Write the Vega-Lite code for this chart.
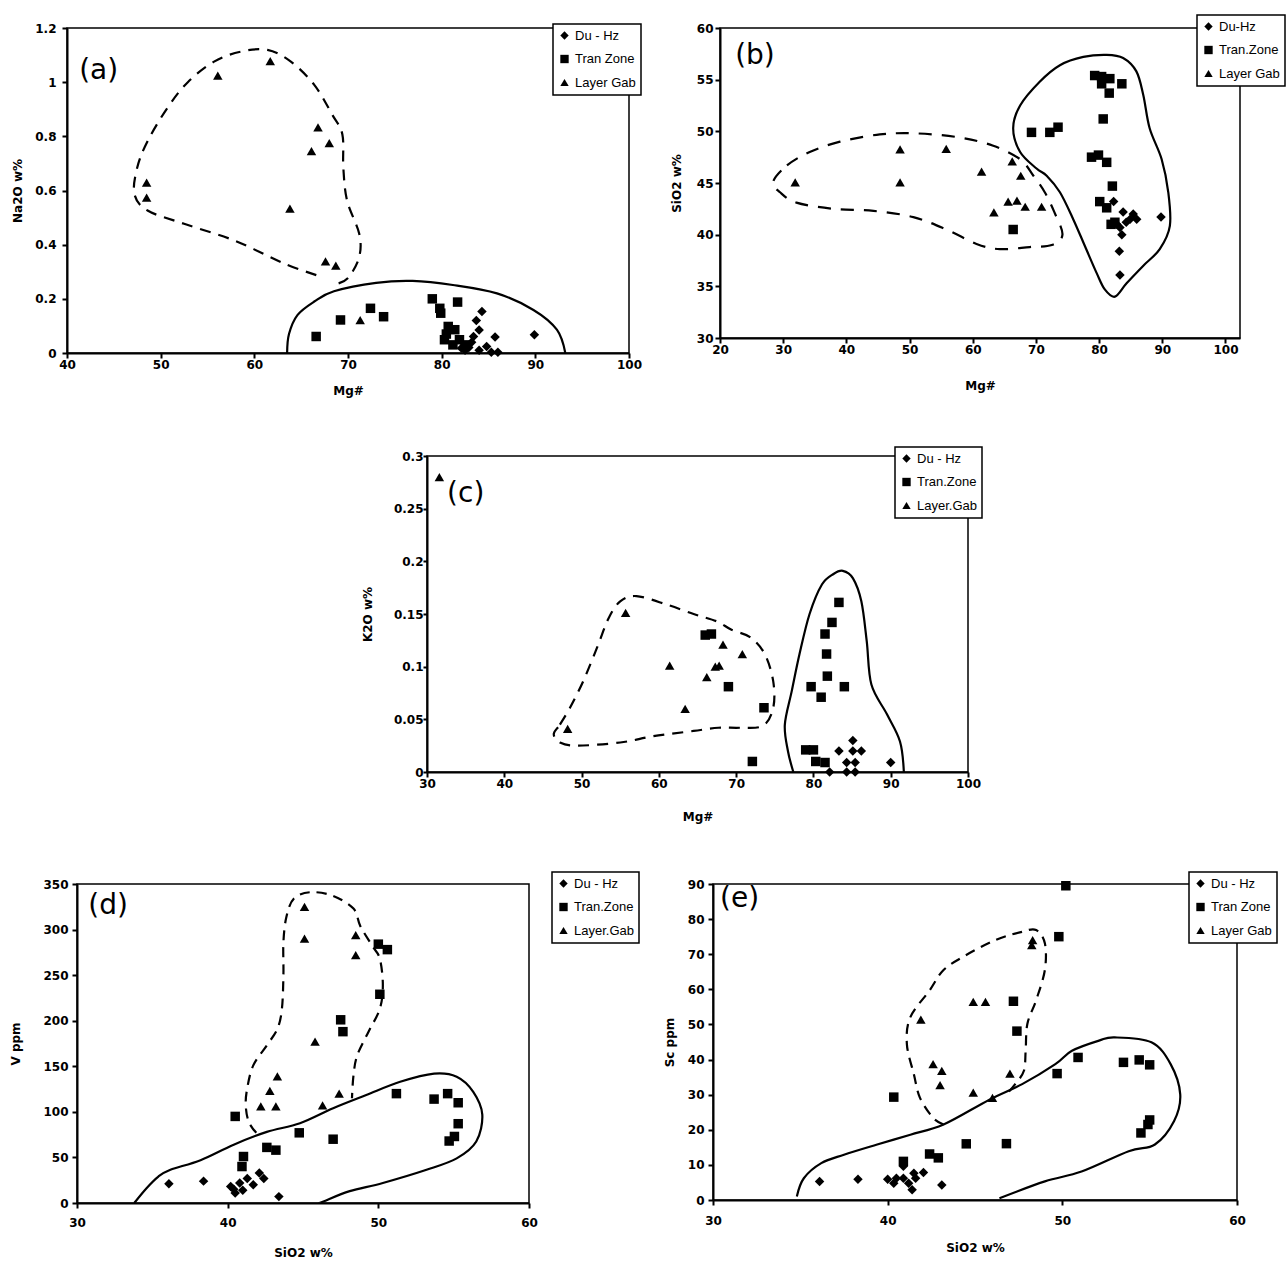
{
  "$schema": "https://vega.github.io/schema/vega-lite/v6.json",
  "padding": {"left": 0, "top": 13, "right": 0, "bottom": 0},
  "background": "white",
  "config": {
    "font": "DejaVu Sans",
    "view": {"stroke": "black", "strokeWidth": 1.5},
    "axis": {"grid": false, "domainColor": "black", "domainWidth": 2, "tickColor": "black", "tickWidth": 2, "tickSize": 5, "labelFont": "DejaVu Sans", "labelFontWeight": "bold", "labelFontSize": 12, "labelColor": "black", "labelFlush": false, "labelOverlap": false, "labelBound": false, "titleFont": "DejaVu Sans", "titleFontWeight": "bold", "titleFontSize": 12, "titleColor": "black", "format": ".2~f"},
    "legend": {"orient": "none", "strokeColor": "black", "strokeWidth": 1.5, "fillColor": "white", "padding": 5, "labelFont": "Liberation Sans", "labelFontSize": 13, "labelColor": "black", "labelOffset": 4, "rowPadding": 9.5, "symbolSize": 70, "symbolStrokeWidth": 0, "symbolFillColor": "black"}
  },
  "datasets": {
    "a_pts": [
      {"rock": "Layer.Gab", "x": 56.1, "y": 1.024}, {"rock": "Layer.Gab", "x": 61.7, "y": 1.078}, {"rock": "Layer.Gab", "x": 66.8, "y": 0.833}, {"rock": "Layer.Gab", "x": 66.1, "y": 0.745}, {"rock": "Layer.Gab", "x": 68.0, "y": 0.775}, {"rock": "Layer.Gab", "x": 48.5, "y": 0.629}, {"rock": "Layer.Gab", "x": 48.5, "y": 0.574}, {"rock": "Layer.Gab", "x": 63.8, "y": 0.533}, {"rock": "Layer.Gab", "x": 67.6, "y": 0.338}, {"rock": "Layer.Gab", "x": 68.7, "y": 0.323}, {"rock": "Layer.Gab", "x": 71.3, "y": 0.121},
      {"rock": "Tran.Zone", "x": 66.6, "y": 0.061}, {"rock": "Tran.Zone", "x": 69.2, "y": 0.122}, {"rock": "Tran.Zone", "x": 72.4, "y": 0.165}, {"rock": "Tran.Zone", "x": 73.8, "y": 0.134}, {"rock": "Tran.Zone", "x": 79.0, "y": 0.2}, {"rock": "Tran.Zone", "x": 79.8, "y": 0.165}, {"rock": "Tran.Zone", "x": 79.9, "y": 0.147}, {"rock": "Tran.Zone", "x": 81.7, "y": 0.188}, {"rock": "Tran.Zone", "x": 80.7, "y": 0.098}, {"rock": "Tran.Zone", "x": 81.4, "y": 0.086}, {"rock": "Tran.Zone", "x": 80.3, "y": 0.049}, {"rock": "Tran.Zone", "x": 81.9, "y": 0.049}, {"rock": "Tran.Zone", "x": 82.5, "y": 0.03}, {"rock": "Tran.Zone", "x": 80.5, "y": 0.07}, {"rock": "Tran.Zone", "x": 81.2, "y": 0.03},
      {"rock": "Du - Hz", "x": 84.3, "y": 0.153}, {"rock": "Du - Hz", "x": 83.7, "y": 0.12}, {"rock": "Du - Hz", "x": 84.0, "y": 0.085}, {"rock": "Du - Hz", "x": 83.4, "y": 0.061}, {"rock": "Du - Hz", "x": 85.7, "y": 0.059}, {"rock": "Du - Hz", "x": 89.9, "y": 0.067}, {"rock": "Du - Hz", "x": 84.8, "y": 0.024}, {"rock": "Du - Hz", "x": 85.3, "y": 0.003}, {"rock": "Du - Hz", "x": 86.0, "y": 0.003}, {"rock": "Du - Hz", "x": 82.1, "y": 0.018}, {"rock": "Du - Hz", "x": 82.9, "y": 0.02}, {"rock": "Du - Hz", "x": 84.0, "y": 0.01}, {"rock": "Du - Hz", "x": 83.2, "y": 0.04}, {"rock": "Du - Hz", "x": 82.5, "y": 0.01}
    ],
    "a_env": [
      {"env": "solid", "i": 0, "x": 63.5, "y": 0}, {"env": "solid", "i": 1, "x": 63.7, "y": 0.07}, {"env": "solid", "i": 2, "x": 64.6, "y": 0.14}, {"env": "solid", "i": 3, "x": 66.4, "y": 0.19}, {"env": "solid", "i": 4, "x": 68.5, "y": 0.228}, {"env": "solid", "i": 5, "x": 73.0, "y": 0.259}, {"env": "solid", "i": 6, "x": 76.9, "y": 0.266}, {"env": "solid", "i": 7, "x": 81.2, "y": 0.251}, {"env": "solid", "i": 8, "x": 85.9, "y": 0.22}, {"env": "solid", "i": 9, "x": 89.8, "y": 0.159}, {"env": "solid", "i": 10, "x": 92.3, "y": 0.086}, {"env": "solid", "i": 11, "x": 93.2, "y": 0},
      {"env": "dashed", "i": 0, "x": 69.0, "y": 0.257}, {"env": "dashed", "i": 1, "x": 70.1, "y": 0.281}, {"env": "dashed", "i": 2, "x": 71.2, "y": 0.355}, {"env": "dashed", "i": 3, "x": 71.2, "y": 0.44}, {"env": "dashed", "i": 4, "x": 69.9, "y": 0.563}, {"env": "dashed", "i": 5, "x": 69.5, "y": 0.685}, {"env": "dashed", "i": 6, "x": 69.4, "y": 0.807}, {"env": "dashed", "i": 7, "x": 68.3, "y": 0.881}, {"env": "dashed", "i": 8, "x": 66.4, "y": 0.99}, {"env": "dashed", "i": 9, "x": 63.9, "y": 1.076}, {"env": "dashed", "i": 10, "x": 61.4, "y": 1.119}, {"env": "dashed", "i": 11, "x": 58.6, "y": 1.113}, {"env": "dashed", "i": 12, "x": 55.7, "y": 1.076}, {"env": "dashed", "i": 13, "x": 52.9, "y": 1.0}, {"env": "dashed", "i": 14, "x": 50.7, "y": 0.904}, {"env": "dashed", "i": 15, "x": 48.6, "y": 0.782}, {"env": "dashed", "i": 16, "x": 47.5, "y": 0.685}, {"env": "dashed", "i": 17, "x": 47.2, "y": 0.587}, {"env": "dashed", "i": 18, "x": 48.6, "y": 0.526}, {"env": "dashed", "i": 19, "x": 52.5, "y": 0.477}, {"env": "dashed", "i": 20, "x": 57.9, "y": 0.415}, {"env": "dashed", "i": 21, "x": 63.2, "y": 0.33}, {"env": "dashed", "i": 22, "x": 67.3, "y": 0.28}
    ],
    "b_pts": [
      {"rock": "Layer.Gab", "x": 31.9, "y": 45.07}, {"rock": "Layer.Gab", "x": 48.5, "y": 48.25}, {"rock": "Layer.Gab", "x": 48.5, "y": 45.07}, {"rock": "Layer.Gab", "x": 55.8, "y": 48.3}, {"rock": "Layer.Gab", "x": 61.4, "y": 46.1}, {"rock": "Layer.Gab", "x": 66.25, "y": 47.1}, {"rock": "Layer.Gab", "x": 67.6, "y": 45.7}, {"rock": "Layer.Gab", "x": 63.35, "y": 42.15}, {"rock": "Layer.Gab", "x": 65.6, "y": 43.2}, {"rock": "Layer.Gab", "x": 67.0, "y": 43.3}, {"rock": "Layer.Gab", "x": 68.3, "y": 42.7}, {"rock": "Layer.Gab", "x": 70.9, "y": 42.7},
      {"rock": "Tran.Zone", "x": 66.4, "y": 40.5}, {"rock": "Tran.Zone", "x": 69.3, "y": 49.9}, {"rock": "Tran.Zone", "x": 72.2, "y": 49.9}, {"rock": "Tran.Zone", "x": 73.5, "y": 50.4}, {"rock": "Tran.Zone", "x": 79.3, "y": 55.4}, {"rock": "Tran.Zone", "x": 80.4, "y": 55.3}, {"rock": "Tran.Zone", "x": 81.7, "y": 55.1}, {"rock": "Tran.Zone", "x": 80.4, "y": 54.6}, {"rock": "Tran.Zone", "x": 83.6, "y": 54.6}, {"rock": "Tran.Zone", "x": 81.6, "y": 53.7}, {"rock": "Tran.Zone", "x": 80.65, "y": 51.2}, {"rock": "Tran.Zone", "x": 78.8, "y": 47.5}, {"rock": "Tran.Zone", "x": 79.9, "y": 47.7}, {"rock": "Tran.Zone", "x": 81.2, "y": 47.0}, {"rock": "Tran.Zone", "x": 82.1, "y": 44.7}, {"rock": "Tran.Zone", "x": 80.1, "y": 43.2}, {"rock": "Tran.Zone", "x": 81.2, "y": 42.6}, {"rock": "Tran.Zone", "x": 82.5, "y": 41.2}, {"rock": "Tran.Zone", "x": 81.9, "y": 41.0},
      {"rock": "Du - Hz", "x": 82.3, "y": 43.2}, {"rock": "Du - Hz", "x": 83.8, "y": 42.2}, {"rock": "Du - Hz", "x": 85.4, "y": 42.0}, {"rock": "Du - Hz", "x": 85.95, "y": 41.5}, {"rock": "Du - Hz", "x": 84.3, "y": 41.2}, {"rock": "Du - Hz", "x": 83.3, "y": 40.7}, {"rock": "Du - Hz", "x": 83.6, "y": 40.0}, {"rock": "Du - Hz", "x": 84.9, "y": 41.5}, {"rock": "Du - Hz", "x": 89.8, "y": 41.7}, {"rock": "Du - Hz", "x": 83.2, "y": 38.4}, {"rock": "Du - Hz", "x": 83.3, "y": 36.1}, {"rock": "Du - Hz", "x": 82.8, "y": 41.0}
    ],
    "b_env": [
      {"env": "solid", "i": 0, "x": 67.5, "y": 52.5}, {"env": "solid", "i": 1, "x": 70.6, "y": 54.8}, {"env": "solid", "i": 2, "x": 73.8, "y": 56.4}, {"env": "solid", "i": 3, "x": 77.5, "y": 57.2}, {"env": "solid", "i": 4, "x": 81.2, "y": 57.4}, {"env": "solid", "i": 5, "x": 83.8, "y": 57.1}, {"env": "solid", "i": 6, "x": 85.9, "y": 55.8}, {"env": "solid", "i": 7, "x": 87.0, "y": 53.5}, {"env": "solid", "i": 8, "x": 88.0, "y": 50.3}, {"env": "solid", "i": 9, "x": 89.9, "y": 47.3}, {"env": "solid", "i": 10, "x": 90.95, "y": 44.1}, {"env": "solid", "i": 11, "x": 91.2, "y": 40.85}, {"env": "solid", "i": 12, "x": 89.6, "y": 38.6}, {"env": "solid", "i": 13, "x": 87.0, "y": 37.0}, {"env": "solid", "i": 14, "x": 84.35, "y": 35.3}, {"env": "solid", "i": 15, "x": 82.5, "y": 34.0}, {"env": "solid", "i": 16, "x": 80.9, "y": 34.7}, {"env": "solid", "i": 17, "x": 79.6, "y": 36.3}, {"env": "solid", "i": 18, "x": 77.75, "y": 38.9}, {"env": "solid", "i": 19, "x": 75.9, "y": 41.5}, {"env": "solid", "i": 20, "x": 73.8, "y": 44.1}, {"env": "solid", "i": 21, "x": 71.7, "y": 45.7}, {"env": "solid", "i": 22, "x": 70.1, "y": 46.4}, {"env": "solid", "i": 23, "x": 67.5, "y": 48.0}, {"env": "solid", "i": 24, "x": 66.4, "y": 50.3},
      {"env": "dashed", "i": 0, "x": 28.4, "y": 45.1}, {"env": "dashed", "i": 1, "x": 30.6, "y": 46.7}, {"env": "dashed", "i": 2, "x": 34.2, "y": 48.0}, {"env": "dashed", "i": 3, "x": 39.0, "y": 49.0}, {"env": "dashed", "i": 4, "x": 45.3, "y": 49.7}, {"env": "dashed", "i": 5, "x": 51.1, "y": 49.8}, {"env": "dashed", "i": 6, "x": 58.0, "y": 49.4}, {"env": "dashed", "i": 7, "x": 63.25, "y": 48.6}, {"env": "dashed", "i": 8, "x": 67.5, "y": 47.3}, {"env": "dashed", "i": 9, "x": 69.6, "y": 45.7}, {"env": "dashed", "i": 10, "x": 71.4, "y": 44.1}, {"env": "dashed", "i": 11, "x": 72.9, "y": 42.2}, {"env": "dashed", "i": 12, "x": 74.2, "y": 40.0}, {"env": "dashed", "i": 13, "x": 72.5, "y": 39.0}, {"env": "dashed", "i": 14, "x": 69.0, "y": 38.8}, {"env": "dashed", "i": 15, "x": 64.3, "y": 38.6}, {"env": "dashed", "i": 16, "x": 60.6, "y": 39.1}, {"env": "dashed", "i": 17, "x": 55.85, "y": 40.5}, {"env": "dashed", "i": 18, "x": 50.6, "y": 41.7}, {"env": "dashed", "i": 19, "x": 44.3, "y": 42.3}, {"env": "dashed", "i": 20, "x": 37.9, "y": 42.5}, {"env": "dashed", "i": 21, "x": 32.1, "y": 43.1}, {"env": "dashed", "i": 22, "x": 29.5, "y": 44.1}
    ],
    "c_pts": [
      {"rock": "Layer.Gab", "x": 31.6, "y": 0.28}, {"rock": "Layer.Gab", "x": 55.7, "y": 0.151}, {"rock": "Layer.Gab", "x": 61.4, "y": 0.101}, {"rock": "Layer.Gab", "x": 63.4, "y": 0.06}, {"rock": "Layer.Gab", "x": 48.2, "y": 0.041}, {"rock": "Layer.Gab", "x": 66.2, "y": 0.09}, {"rock": "Layer.Gab", "x": 67.3, "y": 0.1}, {"rock": "Layer.Gab", "x": 67.8, "y": 0.101}, {"rock": "Layer.Gab", "x": 68.3, "y": 0.121}, {"rock": "Layer.Gab", "x": 70.8, "y": 0.112},
      {"rock": "Tran.Zone", "x": 66.0, "y": 0.13}, {"rock": "Tran.Zone", "x": 66.8, "y": 0.131}, {"rock": "Tran.Zone", "x": 69.0, "y": 0.081}, {"rock": "Tran.Zone", "x": 73.6, "y": 0.061}, {"rock": "Tran.Zone", "x": 72.1, "y": 0.01}, {"rock": "Tran.Zone", "x": 83.3, "y": 0.161}, {"rock": "Tran.Zone", "x": 82.4, "y": 0.142}, {"rock": "Tran.Zone", "x": 81.5, "y": 0.131}, {"rock": "Tran.Zone", "x": 81.7, "y": 0.112}, {"rock": "Tran.Zone", "x": 81.8, "y": 0.091}, {"rock": "Tran.Zone", "x": 79.7, "y": 0.081}, {"rock": "Tran.Zone", "x": 81.0, "y": 0.071}, {"rock": "Tran.Zone", "x": 84.0, "y": 0.081}, {"rock": "Tran.Zone", "x": 79.0, "y": 0.021}, {"rock": "Tran.Zone", "x": 80.0, "y": 0.021}, {"rock": "Tran.Zone", "x": 80.3, "y": 0.01}, {"rock": "Tran.Zone", "x": 81.5, "y": 0.009},
      {"rock": "Du - Hz", "x": 85.1, "y": 0.03}, {"rock": "Du - Hz", "x": 83.3, "y": 0.02}, {"rock": "Du - Hz", "x": 85.1, "y": 0.02}, {"rock": "Du - Hz", "x": 86.2, "y": 0.02}, {"rock": "Du - Hz", "x": 84.3, "y": 0.009}, {"rock": "Du - Hz", "x": 85.4, "y": 0.009}, {"rock": "Du - Hz", "x": 82.1, "y": 0.0}, {"rock": "Du - Hz", "x": 84.3, "y": 0.0}, {"rock": "Du - Hz", "x": 85.4, "y": 0.0}, {"rock": "Du - Hz", "x": 90.0, "y": 0.009}
    ],
    "c_env": [
      {"env": "solid", "i": 0, "x": 77.4, "y": 0}, {"env": "solid", "i": 1, "x": 76.7, "y": 0.02}, {"env": "solid", "i": 2, "x": 76.3, "y": 0.045}, {"env": "solid", "i": 3, "x": 77.2, "y": 0.077}, {"env": "solid", "i": 4, "x": 78.2, "y": 0.112}, {"env": "solid", "i": 5, "x": 79.5, "y": 0.15}, {"env": "solid", "i": 6, "x": 81.1, "y": 0.178}, {"env": "solid", "i": 7, "x": 82.6, "y": 0.188}, {"env": "solid", "i": 8, "x": 83.8, "y": 0.191}, {"env": "solid", "i": 9, "x": 85.1, "y": 0.184}, {"env": "solid", "i": 10, "x": 86.2, "y": 0.162}, {"env": "solid", "i": 11, "x": 86.9, "y": 0.124}, {"env": "solid", "i": 12, "x": 87.5, "y": 0.083}, {"env": "solid", "i": 13, "x": 89.5, "y": 0.055}, {"env": "solid", "i": 14, "x": 91.2, "y": 0.029}, {"env": "solid", "i": 15, "x": 91.7, "y": 0},
      {"env": "dashed", "i": 0, "x": 46.4, "y": 0.036}, {"env": "dashed", "i": 1, "x": 47.2, "y": 0.045}, {"env": "dashed", "i": 2, "x": 48.5, "y": 0.061}, {"env": "dashed", "i": 3, "x": 50.2, "y": 0.086}, {"env": "dashed", "i": 4, "x": 52.0, "y": 0.118}, {"env": "dashed", "i": 5, "x": 53.5, "y": 0.146}, {"env": "dashed", "i": 6, "x": 55.0, "y": 0.162}, {"env": "dashed", "i": 7, "x": 57.1, "y": 0.167}, {"env": "dashed", "i": 8, "x": 61.0, "y": 0.159}, {"env": "dashed", "i": 9, "x": 64.5, "y": 0.15}, {"env": "dashed", "i": 10, "x": 67.5, "y": 0.143}, {"env": "dashed", "i": 11, "x": 69.4, "y": 0.135}, {"env": "dashed", "i": 12, "x": 71.8, "y": 0.128}, {"env": "dashed", "i": 13, "x": 73.7, "y": 0.112}, {"env": "dashed", "i": 14, "x": 74.8, "y": 0.086}, {"env": "dashed", "i": 15, "x": 74.8, "y": 0.061}, {"env": "dashed", "i": 16, "x": 73.5, "y": 0.044}, {"env": "dashed", "i": 17, "x": 70.5, "y": 0.042}, {"env": "dashed", "i": 18, "x": 67.7, "y": 0.042}, {"env": "dashed", "i": 19, "x": 64.5, "y": 0.039}, {"env": "dashed", "i": 20, "x": 59.3, "y": 0.034}, {"env": "dashed", "i": 21, "x": 55.0, "y": 0.028}, {"env": "dashed", "i": 22, "x": 49.4, "y": 0.025}, {"env": "dashed", "i": 23, "x": 47.2, "y": 0.028}
    ],
    "d_pts": [
      {"rock": "Layer.Gab", "x": 45.1, "y": 325}, {"rock": "Layer.Gab", "x": 45.1, "y": 290}, {"rock": "Layer.Gab", "x": 45.8, "y": 177}, {"rock": "Layer.Gab", "x": 43.3, "y": 139}, {"rock": "Layer.Gab", "x": 42.8, "y": 123}, {"rock": "Layer.Gab", "x": 42.2, "y": 106}, {"rock": "Layer.Gab", "x": 43.2, "y": 106}, {"rock": "Layer.Gab", "x": 46.3, "y": 107}, {"rock": "Layer.Gab", "x": 47.4, "y": 120}, {"rock": "Layer.Gab", "x": 48.5, "y": 294}, {"rock": "Layer.Gab", "x": 48.5, "y": 272},
      {"rock": "Tran.Zone", "x": 40.5, "y": 95}, {"rock": "Tran.Zone", "x": 41.05, "y": 51}, {"rock": "Tran.Zone", "x": 40.95, "y": 40}, {"rock": "Tran.Zone", "x": 42.6, "y": 61}, {"rock": "Tran.Zone", "x": 43.2, "y": 58}, {"rock": "Tran.Zone", "x": 44.75, "y": 77}, {"rock": "Tran.Zone", "x": 50.0, "y": 284}, {"rock": "Tran.Zone", "x": 50.6, "y": 278}, {"rock": "Tran.Zone", "x": 50.1, "y": 229}, {"rock": "Tran.Zone", "x": 47.5, "y": 201}, {"rock": "Tran.Zone", "x": 47.65, "y": 188}, {"rock": "Tran.Zone", "x": 47.0, "y": 70}, {"rock": "Tran.Zone", "x": 51.2, "y": 120}, {"rock": "Tran.Zone", "x": 53.7, "y": 114}, {"rock": "Tran.Zone", "x": 54.6, "y": 120}, {"rock": "Tran.Zone", "x": 55.3, "y": 110}, {"rock": "Tran.Zone", "x": 55.3, "y": 87}, {"rock": "Tran.Zone", "x": 55.05, "y": 73}, {"rock": "Tran.Zone", "x": 54.7, "y": 68},
      {"rock": "Du - Hz", "x": 36.1, "y": 21}, {"rock": "Du - Hz", "x": 38.4, "y": 24}, {"rock": "Du - Hz", "x": 40.2, "y": 18}, {"rock": "Du - Hz", "x": 40.5, "y": 11}, {"rock": "Du - Hz", "x": 40.8, "y": 22}, {"rock": "Du - Hz", "x": 41.3, "y": 27}, {"rock": "Du - Hz", "x": 41.7, "y": 20}, {"rock": "Du - Hz", "x": 42.4, "y": 27}, {"rock": "Du - Hz", "x": 42.1, "y": 33}, {"rock": "Du - Hz", "x": 40.4, "y": 15}, {"rock": "Du - Hz", "x": 41.0, "y": 14}, {"rock": "Du - Hz", "x": 43.4, "y": 7}
    ],
    "d_env": [
      {"env": "solid", "i": 0, "x": 33.8, "y": 0}, {"env": "solid", "i": 1, "x": 34.6, "y": 16}, {"env": "solid", "i": 2, "x": 35.4, "y": 29}, {"env": "solid", "i": 3, "x": 36.2, "y": 36.5}, {"env": "solid", "i": 4, "x": 38.2, "y": 47}, {"env": "solid", "i": 5, "x": 40.4, "y": 64}, {"env": "solid", "i": 6, "x": 42.6, "y": 78}, {"env": "solid", "i": 7, "x": 44.8, "y": 87.5}, {"env": "solid", "i": 8, "x": 47.0, "y": 104}, {"env": "solid", "i": 9, "x": 49.2, "y": 118.5}, {"env": "solid", "i": 10, "x": 51.45, "y": 133}, {"env": "solid", "i": 11, "x": 53.7, "y": 142}, {"env": "solid", "i": 12, "x": 55.2, "y": 138.6}, {"env": "solid", "i": 13, "x": 56.3, "y": 122}, {"env": "solid", "i": 14, "x": 56.9, "y": 97}, {"env": "solid", "i": 15, "x": 56.5, "y": 67.5}, {"env": "solid", "i": 16, "x": 55.2, "y": 49}, {"env": "solid", "i": 17, "x": 53.2, "y": 36.5}, {"env": "solid", "i": 18, "x": 50.3, "y": 22}, {"env": "solid", "i": 19, "x": 48.1, "y": 13}, {"env": "solid", "i": 20, "x": 46.4, "y": 2}, {"env": "solid", "i": 21, "x": 46.1, "y": 0},
      {"env": "dashed", "i": 0, "x": 41.9, "y": 77}, {"env": "dashed", "i": 1, "x": 41.4, "y": 89}, {"env": "dashed", "i": 2, "x": 41.2, "y": 107}, {"env": "dashed", "i": 3, "x": 41.3, "y": 126}, {"env": "dashed", "i": 4, "x": 41.7, "y": 151}, {"env": "dashed", "i": 5, "x": 42.6, "y": 173}, {"env": "dashed", "i": 6, "x": 43.3, "y": 191}, {"env": "dashed", "i": 7, "x": 43.6, "y": 213}, {"env": "dashed", "i": 8, "x": 43.7, "y": 250}, {"env": "dashed", "i": 9, "x": 43.7, "y": 286}, {"env": "dashed", "i": 10, "x": 43.9, "y": 314}, {"env": "dashed", "i": 11, "x": 44.4, "y": 334}, {"env": "dashed", "i": 12, "x": 45.5, "y": 341}, {"env": "dashed", "i": 13, "x": 47.0, "y": 337}, {"env": "dashed", "i": 14, "x": 48.35, "y": 323}, {"env": "dashed", "i": 15, "x": 48.8, "y": 304}, {"env": "dashed", "i": 16, "x": 49.6, "y": 282}, {"env": "dashed", "i": 17, "x": 50.1, "y": 268}, {"env": "dashed", "i": 18, "x": 50.3, "y": 239}, {"env": "dashed", "i": 19, "x": 50.1, "y": 213}, {"env": "dashed", "i": 20, "x": 49.35, "y": 188}, {"env": "dashed", "i": 21, "x": 48.6, "y": 162}, {"env": "dashed", "i": 22, "x": 48.35, "y": 140}, {"env": "dashed", "i": 23, "x": 48.25, "y": 115}
    ],
    "e_pts": [
      {"rock": "Layer.Gab", "x": 41.9, "y": 51.4}, {"rock": "Layer.Gab", "x": 42.6, "y": 38.7}, {"rock": "Layer.Gab", "x": 43.1, "y": 36.8}, {"rock": "Layer.Gab", "x": 43.0, "y": 32.7}, {"rock": "Layer.Gab", "x": 44.9, "y": 56.4}, {"rock": "Layer.Gab", "x": 45.6, "y": 56.4}, {"rock": "Layer.Gab", "x": 48.25, "y": 72.6}, {"rock": "Layer.Gab", "x": 48.3, "y": 74}, {"rock": "Layer.Gab", "x": 47.0, "y": 36.0}, {"rock": "Layer.Gab", "x": 44.9, "y": 30.6}, {"rock": "Layer.Gab", "x": 46.0, "y": 29.1},
      {"rock": "Tran.Zone", "x": 40.35, "y": 29.3}, {"rock": "Tran.Zone", "x": 42.4, "y": 13.1}, {"rock": "Tran.Zone", "x": 42.9, "y": 12.0}, {"rock": "Tran.Zone", "x": 44.5, "y": 16.0}, {"rock": "Tran.Zone", "x": 40.9, "y": 11.0}, {"rock": "Tran.Zone", "x": 50.2, "y": 89.5}, {"rock": "Tran.Zone", "x": 49.8, "y": 75.0}, {"rock": "Tran.Zone", "x": 47.2, "y": 56.6}, {"rock": "Tran.Zone", "x": 47.4, "y": 48.1}, {"rock": "Tran.Zone", "x": 50.9, "y": 40.6}, {"rock": "Tran.Zone", "x": 49.7, "y": 36.0}, {"rock": "Tran.Zone", "x": 53.5, "y": 39.2}, {"rock": "Tran.Zone", "x": 54.4, "y": 39.9}, {"rock": "Tran.Zone", "x": 55.0, "y": 38.5}, {"rock": "Tran.Zone", "x": 55.0, "y": 22.8}, {"rock": "Tran.Zone", "x": 54.9, "y": 21.5}, {"rock": "Tran.Zone", "x": 54.5, "y": 19.1}, {"rock": "Tran.Zone", "x": 46.8, "y": 16.05},
      {"rock": "Du - Hz", "x": 36.1, "y": 5.3}, {"rock": "Du - Hz", "x": 38.3, "y": 5.9}, {"rock": "Du - Hz", "x": 40.0, "y": 5.9}, {"rock": "Du - Hz", "x": 40.35, "y": 4.8}, {"rock": "Du - Hz", "x": 40.9, "y": 6.2}, {"rock": "Du - Hz", "x": 40.9, "y": 9.6}, {"rock": "Du - Hz", "x": 41.2, "y": 4.8}, {"rock": "Du - Hz", "x": 41.4, "y": 2.9}, {"rock": "Du - Hz", "x": 41.6, "y": 6.2}, {"rock": "Du - Hz", "x": 42.05, "y": 7.8}, {"rock": "Du - Hz", "x": 41.5, "y": 7.6}, {"rock": "Du - Hz", "x": 40.5, "y": 6.2}, {"rock": "Du - Hz", "x": 43.1, "y": 4.3}
    ],
    "e_env": [
      {"env": "solid", "i": 0, "x": 34.8, "y": 1.0}, {"env": "solid", "i": 1, "x": 35.2, "y": 6.2}, {"env": "solid", "i": 2, "x": 36.2, "y": 10.5}, {"env": "solid", "i": 3, "x": 37.5, "y": 12.9}, {"env": "solid", "i": 4, "x": 39.4, "y": 15.8}, {"env": "solid", "i": 5, "x": 41.3, "y": 18.6}, {"env": "solid", "i": 6, "x": 43.2, "y": 21.5}, {"env": "solid", "i": 7, "x": 45.8, "y": 28.5}, {"env": "solid", "i": 8, "x": 47.7, "y": 33.0}, {"env": "solid", "i": 9, "x": 49.6, "y": 38.7}, {"env": "solid", "i": 10, "x": 50.55, "y": 42.5}, {"env": "solid", "i": 11, "x": 52.1, "y": 45.4}, {"env": "solid", "i": 12, "x": 53.0, "y": 46.3}, {"env": "solid", "i": 13, "x": 55.1, "y": 44.9}, {"env": "solid", "i": 14, "x": 56.2, "y": 38.7}, {"env": "solid", "i": 15, "x": 56.75, "y": 30.1}, {"env": "solid", "i": 16, "x": 56.4, "y": 22.5}, {"env": "solid", "i": 17, "x": 55.3, "y": 15.8}, {"env": "solid", "i": 18, "x": 53.8, "y": 13.9}, {"env": "solid", "i": 19, "x": 51.1, "y": 8.1}, {"env": "solid", "i": 20, "x": 49.0, "y": 5.3}, {"env": "solid", "i": 21, "x": 46.4, "y": 0.5},
      {"env": "dashed", "i": 0, "x": 43.2, "y": 21.5}, {"env": "dashed", "i": 1, "x": 42.6, "y": 23.4}, {"env": "dashed", "i": 2, "x": 41.85, "y": 29.1}, {"env": "dashed", "i": 3, "x": 41.5, "y": 35.8}, {"env": "dashed", "i": 4, "x": 41.1, "y": 44.4}, {"env": "dashed", "i": 5, "x": 41.3, "y": 52.1}, {"env": "dashed", "i": 6, "x": 42.4, "y": 59.7}, {"env": "dashed", "i": 7, "x": 43.2, "y": 65.5}, {"env": "dashed", "i": 8, "x": 44.4, "y": 69.5}, {"env": "dashed", "i": 9, "x": 46.2, "y": 74.1}, {"env": "dashed", "i": 10, "x": 47.7, "y": 76.4}, {"env": "dashed", "i": 11, "x": 48.5, "y": 76.9}, {"env": "dashed", "i": 12, "x": 49.0, "y": 73.1}, {"env": "dashed", "i": 13, "x": 49.0, "y": 65.5}, {"env": "dashed", "i": 14, "x": 48.5, "y": 56.9}, {"env": "dashed", "i": 15, "x": 48.0, "y": 50.2}, {"env": "dashed", "i": 16, "x": 47.9, "y": 42.5}, {"env": "dashed", "i": 17, "x": 47.8, "y": 36.8}, {"env": "dashed", "i": 18, "x": 47.3, "y": 33.0}, {"env": "dashed", "i": 19, "x": 46.8, "y": 30.1}
    ]
  },
  "bounds": "flush",
  "spacing": 428,
  "resolve": {"scale": {"shape": "independent"}, "legend": {"shape": "independent"}},
  "vconcat": [
    {
      "spacing": 0,
      "resolve": {"scale": {"shape": "independent"}, "legend": {"shape": "independent"}},
      "hconcat": [
        {"width": 8, "height": 10, "view": {"stroke": "white"}, "data": {"values": [{}]}, "mark": {"type": "point", "opacity": 0}, "encoding": {}},
        {
          "spacing": 26,
          "resolve": {"scale": {"shape": "independent"}, "legend": {"shape": "independent"}},
          "hconcat": [
            {
              "width": 562, "height": 325,
              "layer": [
                {
                  "encoding": {
                    "x": {"field": "x", "type": "quantitative", "scale": {"domain": [40, 100], "nice": false, "zero": false}, "axis": {"values": [40, 50, 60, 70, 80, 90, 100], "title": "Mg#", "titlePadding": 15, "labelPadding": 1, "labelOverlap": false}},
                    "y": {"field": "y", "type": "quantitative", "scale": {"domain": [0, 1.2], "nice": false, "zero": false}, "axis": {"values": [0, 0.2, 0.4, 0.6, 0.8, 1, 1.2], "title": "Na2O w%", "titlePadding": 10.7, "labelPadding": 6, "labelOverlap": false}}
                  },
                  "layer": [
                    {"data": {"name": "a_env"}, "transform": [{"filter": "datum.env == 'solid'"}], "mark": {"type": "line", "color": "black", "strokeWidth": 2.2, "interpolate": "cardinal"}, "encoding": {"order": {"field": "i", "type": "quantitative"}}},
                    {"data": {"name": "a_env"}, "transform": [{"filter": "datum.env == 'dashed'"}], "mark": {"type": "line", "color": "black", "strokeWidth": 2.2, "interpolate": "cardinal", "strokeDash": [11, 8]}, "encoding": {"order": {"field": "i", "type": "quantitative"}}},
                    {"data": {"name": "a_pts"}, "mark": {"type": "point", "filled": true, "color": "black", "size": 90, "opacity": 1}, "encoding": {"shape": {"field": "rock", "type": "nominal", "scale": {"domain": ["Du - Hz", "Tran.Zone", "Layer.Gab"], "range": ["diamond", "square", "triangle-up"]}, "legend": {"title": null, "legendX": 486, "legendY": -4, "labelExpr": "replace(datum.label, '.', ' ')"}}}}
                  ]
                },
                {"data": {"values": [{}]}, "mark": {"type": "text", "font": "DejaVu Sans", "fontSize": 28, "align": "left", "baseline": "middle", "color": "black"}, "encoding": {
                  "x": {"datum": 41.3, "type": "quantitative", "axis": {"values": [40, 50, 60, 70, 80, 90, 100], "title": "Mg#", "titlePadding": 15, "labelPadding": 1, "labelOverlap": false}},
                  "y": {"datum": 1.04, "type": "quantitative", "axis": {"values": [0, 0.2, 0.4, 0.6, 0.8, 1, 1.2], "title": "Na2O w%", "titlePadding": 10.7, "labelPadding": 6, "labelOverlap": false}},
                  "text": {"value": "(a)"}}}
              ]
            },
            {
              "width": 520, "height": 310,
              "layer": [
                {
                  "encoding": {
                    "x": {"field": "x", "type": "quantitative", "scale": {"domain": [20, 102.3], "nice": false, "zero": false}, "axis": {"values": [20, 30, 40, 50, 60, 70, 80, 90, 100], "title": "Mg#", "titlePadding": 25, "labelPadding": 1, "labelOverlap": false}},
                    "y": {"field": "y", "type": "quantitative", "scale": {"domain": [30, 60], "nice": false, "zero": false}, "axis": {"values": [30, 35, 40, 45, 50, 55, 60], "title": "SiO2 w%", "titlePadding": 13.3, "labelPadding": 2, "labelOverlap": false}}
                  },
                  "layer": [
                    {"data": {"name": "b_env"}, "transform": [{"filter": "datum.env == 'solid'"}], "mark": {"type": "line", "color": "black", "strokeWidth": 2.2, "interpolate": "cardinal-closed"}, "encoding": {"order": {"field": "i", "type": "quantitative"}}},
                    {"data": {"name": "b_env"}, "transform": [{"filter": "datum.env == 'dashed'"}], "mark": {"type": "line", "color": "black", "strokeWidth": 2.2, "interpolate": "cardinal-closed", "strokeDash": [13, 10]}, "encoding": {"order": {"field": "i", "type": "quantitative"}}},
                    {"data": {"name": "b_pts"}, "mark": {"type": "point", "filled": true, "color": "black", "size": 90, "opacity": 1}, "encoding": {"shape": {"field": "rock", "type": "nominal", "scale": {"domain": ["Du - Hz", "Tran.Zone", "Layer.Gab"], "range": ["diamond", "square", "triangle-up"]}, "legend": {"title": null, "legendX": 477, "legendY": -13, "labelExpr": "datum.label == 'Du - Hz' ? 'Du-Hz' : datum.label == 'Layer.Gab' ? 'Layer Gab' : datum.label"}}}}
                  ]
                },
                {"data": {"values": [{}]}, "mark": {"type": "text", "font": "DejaVu Sans", "fontSize": 28, "align": "left", "baseline": "middle", "color": "black"}, "encoding": {
                  "x": {"datum": 22.4, "type": "quantitative", "axis": {"values": [20, 30, 40, 50, 60, 70, 80, 90, 100], "title": "Mg#", "titlePadding": 25, "labelPadding": 1, "labelOverlap": false}},
                  "y": {"datum": 57.3, "type": "quantitative", "axis": {"values": [30, 35, 40, 45, 50, 55, 60], "title": "SiO2 w%", "titlePadding": 13.3, "labelPadding": 2, "labelOverlap": false}},
                  "text": {"value": "(b)"}}}
              ]
            }
          ]
        }
      ]
    },
    {
      "spacing": 0,
      "resolve": {"scale": {"shape": "independent"}, "legend": {"shape": "independent"}},
      "hconcat": [
        {"width": 359, "height": 10, "view": {"stroke": "white"}, "data": {"values": [{}]}, "mark": {"type": "point", "opacity": 0}, "encoding": {}},
        {
          "width": 541, "height": 316,
          "layer": [
            {
              "encoding": {
                "x": {"field": "x", "type": "quantitative", "scale": {"domain": [30, 100], "nice": false, "zero": false}, "axis": {"values": [30, 40, 50, 60, 70, 80, 90, 100], "title": "Mg#", "titlePadding": 22, "labelPadding": 1, "labelOverlap": false}},
                "y": {"field": "y", "type": "quantitative", "scale": {"domain": [0, 0.3], "nice": false, "zero": false}, "axis": {"values": [0, 0.05, 0.1, 0.15, 0.2, 0.25, 0.3], "title": "K2O w%", "titlePadding": 18.4, "labelPadding": 0, "tickSize": 4, "labelOverlap": false}}
              },
              "layer": [
                {"data": {"name": "c_env"}, "transform": [{"filter": "datum.env == 'solid'"}], "mark": {"type": "line", "color": "black", "strokeWidth": 2.2, "interpolate": "cardinal"}, "encoding": {"order": {"field": "i", "type": "quantitative"}}},
                {"data": {"name": "c_env"}, "transform": [{"filter": "datum.env == 'dashed'"}], "mark": {"type": "line", "color": "black", "strokeWidth": 2.2, "interpolate": "cardinal-closed", "strokeDash": [11, 8]}, "encoding": {"order": {"field": "i", "type": "quantitative"}}},
                {"data": {"name": "c_pts"}, "mark": {"type": "point", "filled": true, "color": "black", "size": 90, "opacity": 1}, "encoding": {"shape": {"field": "rock", "type": "nominal", "scale": {"domain": ["Du - Hz", "Tran.Zone", "Layer.Gab"], "range": ["diamond", "square", "triangle-up"]}, "legend": {"title": null, "legendX": 468, "legendY": -9}}}}
              ]
            },
            {"data": {"values": [{}]}, "mark": {"type": "text", "font": "DejaVu Sans", "fontSize": 28, "align": "left", "baseline": "middle", "color": "black"}, "encoding": {
              "x": {"datum": 32.6, "type": "quantitative", "axis": {"values": [30, 40, 50, 60, 70, 80, 90, 100], "title": "Mg#", "titlePadding": 22, "labelPadding": 1, "labelOverlap": false}},
              "y": {"datum": 0.264, "type": "quantitative", "axis": {"values": [0, 0.05, 0.1, 0.15, 0.2, 0.25, 0.3], "title": "K2O w%", "titlePadding": 18.4, "labelPadding": 0, "tickSize": 4, "labelOverlap": false}},
              "text": {"value": "(c)"}}}
          ]
        }
      ]
    },
    {
      "spacing": 0,
      "resolve": {"scale": {"shape": "independent"}, "legend": {"shape": "independent"}},
      "hconcat": [
        {"width": 7, "height": 10, "view": {"stroke": "white"}, "data": {"values": [{}]}, "mark": {"type": "point", "opacity": 0}, "encoding": {}},
        {
          "spacing": 21,
          "resolve": {"scale": {"shape": "independent"}, "legend": {"shape": "independent"}},
          "hconcat": [
            {
              "width": 452, "height": 319,
              "layer": [
                {
                  "encoding": {
                    "x": {"field": "x", "type": "quantitative", "scale": {"domain": [30, 60], "nice": false, "zero": false}, "axis": {"values": [30, 40, 50, 60], "title": "SiO2 w%", "titlePadding": 19, "labelPadding": 9, "labelOverlap": false}},
                    "y": {"field": "y", "type": "quantitative", "scale": {"domain": [0, 350], "nice": false, "zero": false}, "axis": {"values": [0, 50, 100, 150, 200, 250, 300, 350], "title": "V ppm", "titlePadding": 20, "labelPadding": 4, "labelOverlap": false}}
                  },
                  "layer": [
                    {"data": {"name": "d_env"}, "transform": [{"filter": "datum.env == 'solid'"}], "mark": {"type": "line", "color": "black", "strokeWidth": 2.2, "interpolate": "cardinal"}, "encoding": {"order": {"field": "i", "type": "quantitative"}}},
                    {"data": {"name": "d_env"}, "transform": [{"filter": "datum.env == 'dashed'"}], "mark": {"type": "line", "color": "black", "strokeWidth": 2.2, "interpolate": "cardinal", "strokeDash": [10, 7]}, "encoding": {"order": {"field": "i", "type": "quantitative"}}},
                    {"data": {"name": "d_pts"}, "mark": {"type": "point", "filled": true, "color": "black", "size": 90, "opacity": 1}, "encoding": {"shape": {"field": "rock", "type": "nominal", "scale": {"domain": ["Du - Hz", "Tran.Zone", "Layer.Gab"], "range": ["diamond", "square", "triangle-up"]}, "legend": {"title": null, "legendX": 475, "legendY": -12}}}}
                  ]
                },
                {"data": {"values": [{}]}, "mark": {"type": "text", "font": "DejaVu Sans", "fontSize": 28, "align": "left", "baseline": "middle", "color": "black"}, "encoding": {
                  "x": {"datum": 30.75, "type": "quantitative", "axis": {"values": [30, 40, 50, 60], "title": "SiO2 w%", "titlePadding": 19, "labelPadding": 9, "labelOverlap": false}},
                  "y": {"datum": 326, "type": "quantitative", "axis": {"values": [0, 50, 100, 150, 200, 250, 300, 350], "title": "V ppm", "titlePadding": 20, "labelPadding": 4, "labelOverlap": false}},
                  "text": {"value": "(d)"}}}
              ]
            },
            {
              "width": 524, "height": 316,
              "layer": [
                {
                  "encoding": {
                    "x": {"field": "x", "type": "quantitative", "scale": {"domain": [30, 60], "nice": false, "zero": false}, "axis": {"values": [30, 40, 50, 60], "title": "SiO2 w%", "titlePadding": 16.7, "labelPadding": 10, "labelOverlap": false}},
                    "y": {"field": "y", "type": "quantitative", "scale": {"domain": [0, 90], "nice": false, "zero": false}, "axis": {"values": [0, 10, 20, 30, 40, 50, 60, 70, 80, 90], "title": "Sc ppm", "titlePadding": 11.3, "labelPadding": 4, "labelOverlap": false}}
                  },
                  "layer": [
                    {"data": {"name": "e_env"}, "transform": [{"filter": "datum.env == 'solid'"}], "mark": {"type": "line", "color": "black", "strokeWidth": 2.2, "interpolate": "cardinal"}, "encoding": {"order": {"field": "i", "type": "quantitative"}}},
                    {"data": {"name": "e_env"}, "transform": [{"filter": "datum.env == 'dashed'"}], "mark": {"type": "line", "color": "black", "strokeWidth": 2.2, "interpolate": "cardinal", "strokeDash": [10, 7]}, "encoding": {"order": {"field": "i", "type": "quantitative"}}},
                    {"data": {"name": "e_pts"}, "mark": {"type": "point", "filled": true, "color": "black", "size": 90, "opacity": 1}, "encoding": {"shape": {"field": "rock", "type": "nominal", "scale": {"domain": ["Du - Hz", "Tran.Zone", "Layer.Gab"], "range": ["diamond", "square", "triangle-up"]}, "legend": {"title": null, "legendX": 476, "legendY": -12, "labelExpr": "replace(datum.label, '.', ' ')"}}}}
                  ]
                },
                {"data": {"values": [{}]}, "mark": {"type": "text", "font": "DejaVu Sans", "fontSize": 28, "align": "left", "baseline": "middle", "color": "black"}, "encoding": {
                  "x": {"datum": 30.4, "type": "quantitative", "axis": {"values": [30, 40, 50, 60], "title": "SiO2 w%", "titlePadding": 16.7, "labelPadding": 10, "labelOverlap": false}},
                  "y": {"datum": 85.6, "type": "quantitative", "axis": {"values": [0, 10, 20, 30, 40, 50, 60, 70, 80, 90], "title": "Sc ppm", "titlePadding": 11.3, "labelPadding": 4, "labelOverlap": false}},
                  "text": {"value": "(e)"}}}
              ]
            }
          ]
        }
      ]
    }
  ]
}
